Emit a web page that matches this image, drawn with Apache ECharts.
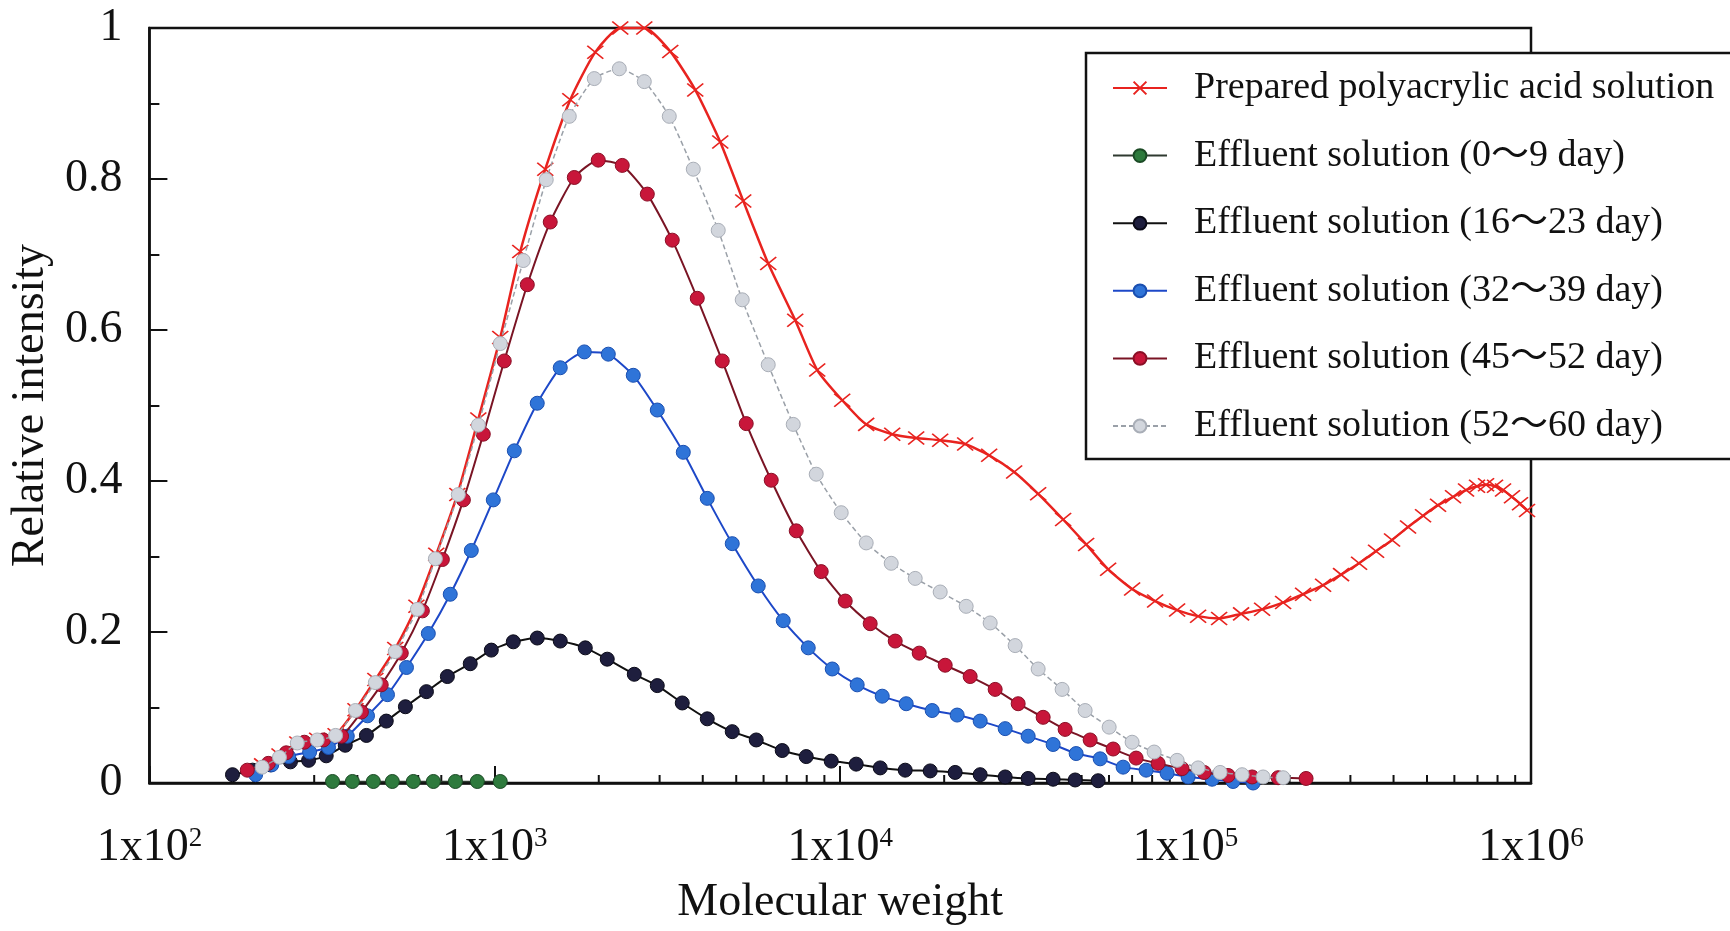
<!DOCTYPE html>
<html><head><meta charset="utf-8">
<script src="https://cdn.jsdelivr.net/npm/echarts@6/dist/echarts.min.js"></script>
<style>html,body{margin:0;padding:0;background:#fff}#c{width:1730px;height:931px}</style>
</head><body><div id="c"></div>
<script>
const FONT = "'Liberation Serif','Times New Roman','Noto Sans CJK JP',serif";

const seriesNames = [
  'Prepared polyacrylic acid solution',
  'Effluent solution (0～9 day)',
  'Effluent solution (16～23 day)',
  'Effluent solution (32～39 day)',
  'Effluent solution (45～52 day)',
  'Effluent solution (52～60 day)'
];

// Prepared polyacrylic acid solution
const mwPrepared = [212,238,268,306,346,395,451,515,593,677,779,896,1037,1185,1400,1654,1954,2308,2709,3221,3805,4495,5239,6189,7410,8580,10135,11891,14144,16596,19475,23004,26995,31890,37420,44200,51530,59670,70010,81620,94500,108700,125040,144760,166530,191550,218840,250050,281900,317850,356000,396000,440600,486900,538100,594700,648500,697800,741000,786800,829900,881100,929400,973800];
const valPrepared = [0.024,0.037,0.053,0.058,0.064,0.097,0.137,0.178,0.234,0.303,0.382,0.482,0.590,0.704,0.813,0.905,0.968,1.0,1.0,0.969,0.918,0.849,0.771,0.688,0.613,0.547,0.507,0.475,0.462,0.457,0.454,0.449,0.434,0.412,0.383,0.349,0.316,0.283,0.257,0.241,0.229,0.221,0.218,0.224,0.230,0.239,0.250,0.262,0.276,0.291,0.307,0.322,0.339,0.354,0.368,0.379,0.388,0.393,0.395,0.393,0.388,0.379,0.370,0.361];

// Effluent 0~9 day
const mwDay0 = [339,387,445,505,581,664,769,890,1037];
const valDay0 = [0.002,0.002,0.002,0.002,0.002,0.002,0.002,0.002,0.002];

// Effluent 16~23 day
const mwDay16 = [174,199,224,256,289,325,369,425,485,551,634,729,849,977,1131,1327,1547,1828,2116,2534,2954,3489,4122,4869,5713,6795,7973,9419,11124,13057,15423,18219,21521,25424,30034,35007,41350,47887,55823];
const valDay16 = [0.011,0.017,0.024,0.028,0.030,0.036,0.050,0.063,0.082,0.101,0.121,0.141,0.158,0.176,0.187,0.192,0.188,0.179,0.164,0.144,0.129,0.106,0.085,0.068,0.057,0.043,0.035,0.029,0.025,0.020,0.017,0.016,0.014,0.011,0.008,0.006,0.005,0.004,0.003];

// Effluent 32~39 day
const mwDay32 = [203,226,253,291,330,374,428,489,555,642,743,855,990,1139,1327,1547,1816,2131,2517,2954,3513,4122,4869,5790,6840,8081,9482,11199,13232,15526,18464,21809,25424,30034,35007,41350,48207,56571,65935,76869,88407,101691,119339,137241,156836];
const valDay32 = [0.011,0.024,0.035,0.041,0.047,0.062,0.089,0.117,0.153,0.198,0.250,0.308,0.375,0.440,0.503,0.550,0.571,0.568,0.540,0.494,0.438,0.377,0.317,0.261,0.215,0.179,0.151,0.130,0.115,0.105,0.096,0.090,0.082,0.072,0.062,0.051,0.039,0.032,0.021,0.017,0.013,0.008,0.005,0.002,0.0];

// Effluent 45~52 day
const mwDay45 = [192,221,249,281,319,360,411,469,536,617,705,811,926,1065,1242,1447,1699,1993,2339,2764,3264,3856,4555,5345,6314,7460,8812,10340,12212,14430,16931,20135,23784,28096,32752,38688,44793,52922,61692,71902,83269,97698,113135,132770,155800,185271,223260];
const valDay45 = [0.017,0.026,0.040,0.054,0.057,0.062,0.094,0.130,0.172,0.228,0.296,0.375,0.462,0.559,0.660,0.743,0.802,0.825,0.818,0.780,0.719,0.642,0.559,0.476,0.401,0.334,0.280,0.241,0.211,0.188,0.172,0.156,0.141,0.124,0.105,0.087,0.071,0.057,0.045,0.033,0.026,0.019,0.014,0.010,0.008,0.007,0.006];

// Effluent 52~60 day
const mwDay52 = [212,238,268,306,346,395,451,515,597,673,784,896,1037,1209,1409,1643,1941,2293,2709,3200,3755,4435,5204,6189,7312,8523,10068,11891,14050,16486,19475,23158,27176,32103,37420,43907,51188,60069,70010,81078,94500,108700,125877,145728,167644,191550];
const valDay52 = [0.021,0.034,0.053,0.057,0.063,0.096,0.133,0.174,0.230,0.297,0.382,0.474,0.582,0.692,0.799,0.883,0.933,0.946,0.929,0.883,0.813,0.732,0.640,0.554,0.475,0.409,0.358,0.318,0.291,0.271,0.253,0.234,0.212,0.182,0.151,0.124,0.096,0.074,0.054,0.041,0.030,0.020,0.014,0.011,0.008,0.007];

// x-axis minor tick values (2..9 x each decade)
const xMinorTicks = [200,300,400,500,600,700,800,900,2000,3000,4000,5000,6000,7000,8000,9000,20000,30000,40000,50000,60000,70000,80000,90000,200000,300000,400000,500000,600000,700000,800000,900000];

function pairs(mw, val) { return mw.map((m, i) => [m, val[i]]); }

function lineSeries(name, mw, val, o) {
  return {
    type: 'line', name: name, data: pairs(mw, val),
    symbol: o.symbol || 'circle', symbolSize: o.size || 14,
    smooth: 0.2, clip: false, z: o.z,
    lineStyle: { color: o.line, width: o.lw, type: o.dash || 'solid' },
    itemStyle: { color: o.fill, borderColor: o.border, borderWidth: o.bw },
    emphasis: { disabled: true }
  };
}

const chart = echarts.init(document.getElementById('c'), null, { renderer: 'canvas' });
chart.setOption({
  animation: false,
  backgroundColor: '#ffffff',
  grid: { left: 149, top: 28, width: 1382, height: 760, show: true, borderColor: '#111', borderWidth: 2.5, backgroundColor: 'transparent' },
  legend: {
    data: seriesNames, orient: 'vertical', left: 1086, top: 53,
    padding: [16, 80, 14, 26], itemGap: 29.6, itemWidth: 54, itemHeight: 16,
    borderColor: '#111', borderWidth: 2.5, backgroundColor: '#fff',
    selectedMode: false, z: 20,
    textStyle: { fontFamily: FONT, fontSize: 38, color: '#111', lineHeight: 38, padding: [0, 0, 0, 22] }
  },
  xAxis: {
    type: 'log', logBase: 10, min: 100, max: 1000000,
    name: 'Molecular weight', nameLocation: 'middle', nameGap: 97,
    nameTextStyle: { fontFamily: FONT, fontSize: 46, color: '#111' },
    axisLine: { show: true, lineStyle: { color: '#111', width: 2.5 } },
    axisTick: { show: true, inside: true, length: 17, lineStyle: { color: '#111', width: 2 } },
    minorTick: { show: false }, splitLine: { show: false },
    axisLabel: {
      margin: 42, color: '#111',
      formatter: function (v) { return '{b|1x10}{s|' + Math.round(Math.log10(v)) + '}'; },
      rich: {
        b: { fontFamily: FONT, fontSize: 46, color: '#111' },
        s: { fontFamily: FONT, fontSize: 27, color: '#111', verticalAlign: 'top' }
      }
    }
  },
  yAxis: {
    type: 'value', min: 0, max: 1, interval: 0.2,
    name: 'Relative intensity', nameLocation: 'middle', nameGap: 88,
    nameTextStyle: { fontFamily: FONT, fontSize: 46, color: '#111' },
    axisLine: { show: true, lineStyle: { color: '#111', width: 2.5 } },
    axisTick: { show: true, inside: true, length: 18, lineStyle: { color: '#111', width: 2 } },
    minorTick: { show: true, splitNumber: 2, length: 10, lineStyle: { color: '#111', width: 2 } },
    splitLine: { show: false },
    axisLabel: { fontFamily: FONT, fontSize: 46, color: '#111', margin: 27 }
  },
  series: [
    {
      type: 'custom', name: 'minorTicks', silent: true, clip: false, z: 3,
      data: xMinorTicks.map(v => [v]),
      renderItem: function (params, api) {
        const p = api.coord([api.value(0), 0]);
        return { type: 'line', shape: { x1: p[0], y1: p[1], x2: p[0], y2: p[1] - 8 }, style: { stroke: '#111', lineWidth: 2 } };
      }
    },
    lineSeries(seriesNames[0], mwPrepared, valPrepared, { symbol: 'path://M0,0L10,10M10,0L0,10', size: [16, 13], line: '#e8231f', lw: 2.5, fill: '#e8231f', border: '#e8231f', bw: 1.6, z: 2 }),
    lineSeries(seriesNames[1], mwDay0, valDay0, { line: '#2f3a30', lw: 1.5, fill: '#2e7a3d', border: '#1b4a25', bw: 1, z: 3 }),
    lineSeries(seriesNames[2], mwDay16, valDay16, { line: '#111111', lw: 2, fill: '#1e1e3e', border: '#0a0a18', bw: 1, z: 4 }),
    lineSeries(seriesNames[3], mwDay32, valDay32, { line: '#1d48c8', lw: 2, fill: '#2f74d8', border: '#1a4fb0', bw: 1, z: 5 }),
    lineSeries(seriesNames[4], mwDay45, valDay45, { line: '#7a1424', lw: 2, fill: '#c8163a', border: '#8a0f26', bw: 1, z: 6 }),
    lineSeries(seriesNames[5], mwDay52, valDay52, { line: '#9aa0a8', lw: 1.5, dash: [5, 3], fill: '#d2d6dd', border: '#a9aeb7', bw: 1, z: 7 })
  ]
});
</script></body></html>
